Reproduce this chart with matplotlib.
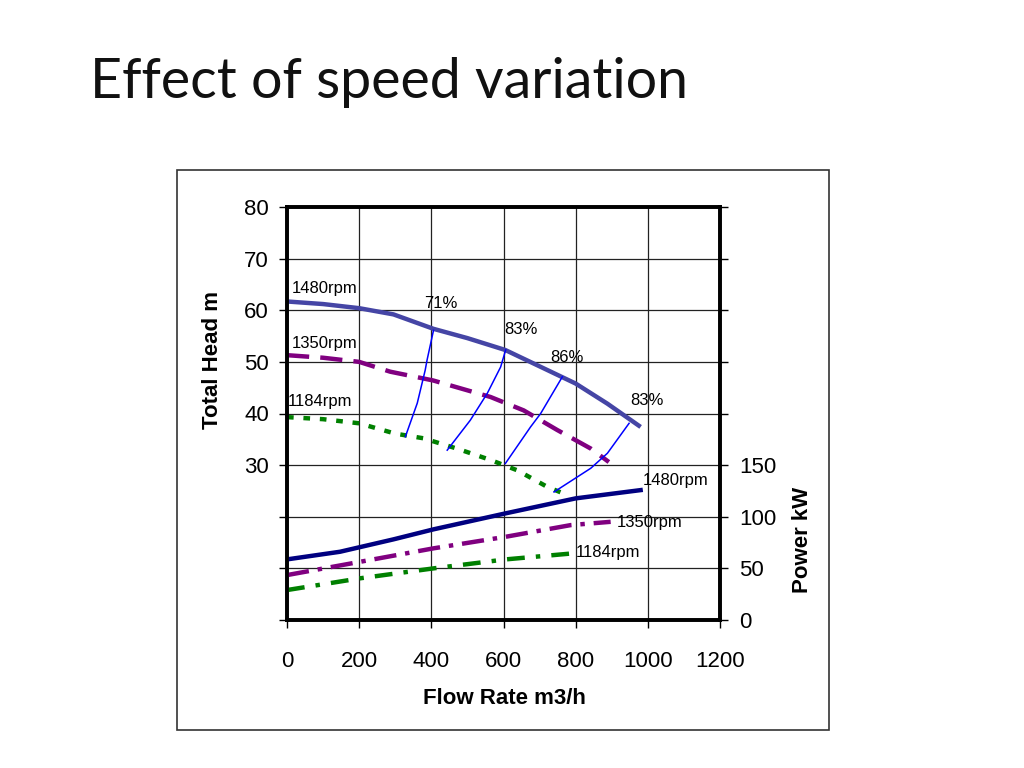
import matplotlib.pyplot as plt
from matplotlib.patches import Rectangle

# head curves (flow m3/h, head m)
flow_h1480 = [0, 100, 200, 295, 406, 500, 605, 683, 800, 888, 980]
head_1480 = [61.7, 61.2, 60.4, 59.2, 56.4, 54.6, 52.3, 49.7, 45.8, 41.9, 37.4]
flow_h1350 = [0, 100, 200, 286, 405, 564, 656, 749, 842, 892]
head_1350 = [51.3, 50.8, 50.0, 48.1, 46.4, 43.2, 40.6, 36.8, 33.2, 30.6]
flow_h1184 = [0, 100, 200, 300, 378, 471, 564, 638, 721, 777]
head_1184 = [39.3, 38.9, 38.1, 36.1, 35.2, 33.2, 31.0, 29.0, 25.8, 24.2]

# power curves (flow m3/h, power kW)
flow_p1480 = [0, 147, 295, 406, 606, 800, 980]
power_1480 = [58.7, 66.1, 78.1, 87.8, 103.3, 117.8, 125.8]
flow_p1350 = [0, 203, 406, 606, 786, 897]
power_1350 = [43.5, 56.4, 69.4, 80.6, 91.9, 95.1]
flow_p1184 = [0, 203, 406, 606, 791]
power_1184 = [29.0, 40.4, 50.0, 58.7, 64.5]

# iso-efficiency lines
eff_labels = ['71%', '83%', '86%', '83%']
eff_flow = [
    [406, 388, 383, 361, 328],
    [606, 592, 555, 508, 444],
    [763, 703, 675, 605],
    [948, 888, 842, 740],
]
eff_head = [
    [56.1, 50.3, 48.4, 42.0, 35.5],
    [52.3, 49.0, 43.9, 38.7, 32.9],
    [47.1, 40.0, 37.4, 30.3],
    [38.1, 32.3, 29.4, 24.8],
]
eff_label_pos = [(427, 61.3), (647, 56.3), (775, 50.8), (950, 42.6)]

plt.rcParams['font.family'] = ['Liberation Sans', 'DejaVu Sans']

fig = plt.figure(figsize=(10.24, 7.68), dpi=100)
fig.text(90 / 1024, 1 - 98 / 768, 'Effect of speed variation', family='Lato',
         fontsize=40, ha='left', va='baseline', color='#111111')
fig.patches.append(Rectangle((177 / 1024, 1 - 730 / 768), 652 / 1024, 560 / 768,
                             transform=fig.transFigure, fill=False,
                             edgecolor='#333333', lw=1.2))

ax = fig.add_axes([287 / 1024, 1 - 620 / 768, 433 / 1024, 413 / 768])
ax.set_xlim(0, 1200)
ax.set_ylim(0, 80)
ax.set_xticks(range(0, 1201, 200))
ax.set_yticks(range(0, 81, 10))
ax.set_yticklabels(['' if v < 30 else str(v) for v in range(0, 81, 10)])
ax.grid(True, color='#222222', lw=0.9)
ax.set_axisbelow(True)
for s in ax.spines.values():
    s.set_linewidth(2.6)
ax.tick_params(axis='y', length=6, width=1, pad=7, labelsize=16)
ax.tick_params(axis='x', length=6, width=1, pad=16, labelsize=16)

ax.plot(flow_h1480, head_1480, color='#4545A5', lw=3.2, solid_capstyle='butt')
ax.plot(flow_h1350, head_1350, color='#800080', lw=3.2, dashes=(5, 2.5))
ax.plot(flow_h1184, head_1184, color='#008000', lw=3.2, dashes=(1.5, 2.2))
for fx, hy in zip(eff_flow, eff_head):
    ax.plot(fx, hy, color='#0000FF', lw=1.1)
for lab, (lx, ly) in zip(eff_labels, eff_label_pos):
    ax.text(lx, ly, lab, fontsize=12, ha='center' if lx < 900 else 'left', va='center')
ax.text(14, 64.3, '1480rpm', fontsize=12, va='center')
ax.text(12, 53.6, '1350rpm', fontsize=12, va='center')
ax.text(2, 42.4, '1184rpm', fontsize=12, va='center')

ax2 = ax.twinx()
ax2.set_ylim(0, 400)
ax2.set_yticks(range(0, 401, 50))
ax2.set_yticklabels([str(v) if v <= 150 else '' for v in range(0, 401, 50)])
ax2.tick_params(axis='y', length=6, width=1, pad=8, labelsize=16)
for s in ax2.spines.values():
    s.set_linewidth(2.6)

ax2.plot(flow_p1480, power_1480, color='#000080', lw=3.2)
ax2.plot(flow_p1350, power_1350, color='#800080', lw=3.2, dashes=(5, 2, 1, 2))
ax2.plot(flow_p1184, power_1184, color='#008000', lw=3.2, dashes=(4, 2.5, 1, 2.5))
ax2.text(985, 134.8, '1480rpm', fontsize=12, va='center')
ax2.text(914, 94.2, '1350rpm', fontsize=12, va='center')
ax2.text(800, 65.2, '1184rpm', fontsize=12, va='center')

fig.text(212 / 1024, 1 - 360 / 768, 'Total Head m', rotation=90, fontsize=16,
         fontweight='bold', ha='center', va='center')
fig.text(803 / 1024, 1 - 540 / 768, 'Power kW', rotation=90, fontsize=16,
         fontweight='bold', ha='center', va='center')
fig.text(504 / 1024, 1 - 698 / 768, 'Flow Rate m3/h', fontsize=16,
         fontweight='bold', ha='center', va='center')

fig.savefig('out.png', dpi=100)
